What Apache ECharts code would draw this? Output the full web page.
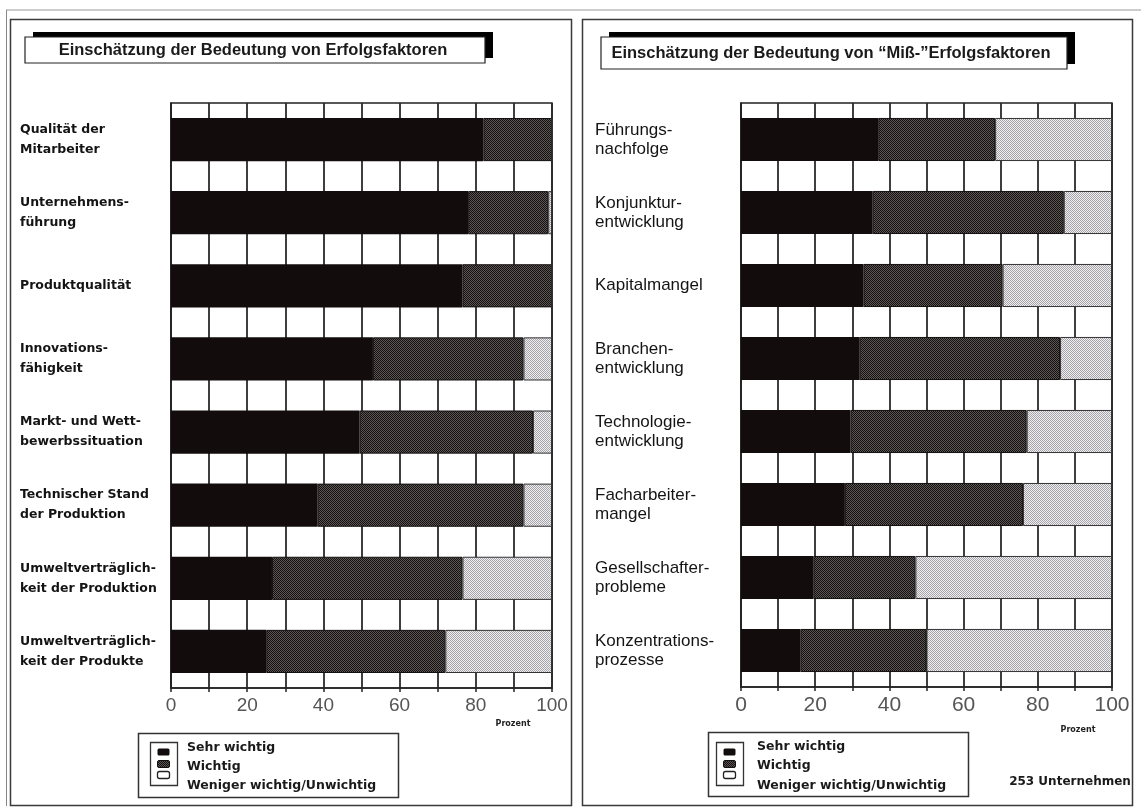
<!DOCTYPE html>
<html>
<head>
<meta charset="utf-8">
<script src="https://cdn.jsdelivr.net/npm/echarts@6/dist/echarts.min.js"></script>
<style>
  html, body { margin: 0; padding: 0; background: #fff; }
  #chart { width: 1141px; height: 808px; }
</style>
</head>
<body>
<div id="chart"></div>
<script>
// Left panel: importance of success factors
const titleA = 'Einschätzung der Bedeutung von Erfolgsfaktoren';
const categoriesA = [
  'Qualität der\nMitarbeiter',
  'Unternehmens-\nführung',
  'Produktqualität',
  'Innovations-\nfähigkeit',
  'Markt- und Wett-\nbewerbssituation',
  'Technischer Stand\nder Produktion',
  'Umweltverträglich-\nkeit der Produktion',
  'Umweltverträglich-\nkeit der Produkte'
];
const sehrA    = [82, 78, 76.5, 53, 49.5, 38.5, 26.5, 25];
const wichtigA = [18, 21, 23.5, 39.5, 45.5, 54, 50, 47];
const wenigerA = [0, 1, 0, 7.5, 5, 7.5, 23.5, 28];

// Right panel: importance of "failure" factors
const titleB = 'Einschätzung der Bedeutung von “Miß-”Erfolgsfaktoren';
const categoriesB = [
  'Führungs-\nnachfolge',
  'Konjunktur-\nentwicklung',
  'Kapitalmangel',
  'Branchen-\nentwicklung',
  'Technologie-\nentwicklung',
  'Facharbeiter-\nmangel',
  'Gesellschafter-\nprobleme',
  'Konzentrations-\nprozesse'
];
const sehrB    = [37, 35.5, 33, 32, 29.5, 28, 19.5, 16];
const wichtigB = [31.5, 51.5, 37.5, 54, 47.5, 48, 27.5, 34];
const wenigerB = [31.5, 13, 29.5, 14, 23, 24, 53, 50];

const seriesNames = ['Sehr wichtig', 'Wichtig', 'Weniger wichtig/Unwichtig'];
const xTicks = [0, 20, 40, 60, 80, 100];
const unitLabel = 'Prozent';
const sampleNote = '253 Unternehmen';

// dithered raster fills
function dither(c1, c2) {
  const cv = document.createElement('canvas');
  cv.width = 2; cv.height = 2;
  const g = cv.getContext('2d');
  g.fillStyle = c1; g.fillRect(0, 0, 2, 2);
  g.fillStyle = c2; g.fillRect(0, 0, 1, 1); g.fillRect(1, 1, 1, 1);
  return cv;
}
const blackFill = '#130c0c';
const darkCanvas = dither('#5c5656', '#161111');
const lightCanvas = dither('#efeef0', '#a6a4a8');
const darkFill = { image: darkCanvas, repeat: 'repeat' };
const lightFill = { image: lightCanvas, repeat: 'repeat' };
const darkPat = { type: 'pattern', image: darkCanvas, repeat: 'repeat' };

const BOLD = 'DejaVu Sans';
const SANS = 'Liberation Sans';

const chart = echarts.init(document.getElementById('chart'), null, { renderer: 'canvas' });

function xAxisDef(gridIndex, fontSize) {
  return {
    type: 'value', gridIndex, min: 0, max: 100, interval: 10,
    axisLine: { show: true, lineStyle: { color: '#222', width: 1.5 } },
    axisTick: { show: true, length: 4, lineStyle: { color: '#222', width: 1.5 } },
    splitLine: { show: true, lineStyle: { color: '#2a2a2a', width: 1.8 } },
    axisLabel: {
      margin: 8, color: '#555', fontFamily: SANS, fontSize,
      formatter: v => (xTicks.indexOf(v) >= 0 ? String(v) : '')
    }
  };
}
function yAxisDef(gridIndex, cats, margin, font, size, weight, lh) {
  return {
    type: 'category', gridIndex, data: cats, inverse: true,
    axisLine: { show: true, lineStyle: { color: '#222', width: 1.5 } },
    axisTick: { show: false },
    axisLabel: {
      align: 'left', margin, color: '#141414',
      fontFamily: font, fontSize: size, fontWeight: weight, lineHeight: lh
    }
  };
}
function stack(name, data, xi, color, border) {
  return {
    type: 'bar', name, data, stack: 'g' + xi, xAxisIndex: xi, yAxisIndex: xi,
    barCategoryGap: '41%',
    itemStyle: { color, borderColor: border, borderWidth: border ? 1 : 0 },
    silent: true
  };
}

// boxed title with a solid black offset shadow
function titleBox(x, y, w, h, text, cx) {
  return [
    { type: 'rect', shape: { x: x + 8, y: y - 5, width: w, height: h }, style: { fill: '#000' } },
    { type: 'rect', shape: { x, y, width: w, height: h }, style: { fill: '#fff', stroke: '#222', lineWidth: 1.2 } },
    { type: 'text', x: cx, y: y + h / 2, style: { text, font: 'bold 16.5px "Liberation Sans"', fill: '#1a1a1a', align: 'center', verticalAlign: 'middle' } }
  ];
}
// legend box: stacked swatches in a small frame, names beside
function legendBox(x, y, w, h, ix, iy, tx, tys) {
  const els = [
    { type: 'rect', shape: { x, y, width: w, height: h }, style: { fill: '#fff', stroke: '#333', lineWidth: 1.5 } },
    { type: 'rect', shape: { x: ix, y: iy, width: 27, height: 43 }, style: { fill: '#fff', stroke: '#333', lineWidth: 1.3 } },
    { type: 'rect', shape: { x: ix + 7, y: iy + 6, width: 12, height: 7, r: 1.5 }, style: { fill: blackFill } },
    { type: 'rect', shape: { x: ix + 7, y: iy + 18, width: 12, height: 7, r: 1.5 }, style: { fill: darkPat, stroke: '#111', lineWidth: 1 } },
    { type: 'rect', shape: { x: ix + 7, y: iy + 29, width: 12, height: 7, r: 2 }, style: { fill: '#fff', stroke: '#222', lineWidth: 1.3 } }
  ];
  seriesNames.forEach((n, i) => els.push({
    type: 'text', x: tx, y: tys[i],
    style: { text: n, font: 'bold 12.5px "DejaVu Sans"', fill: '#1a1a1a', verticalAlign: 'middle' }
  }));
  return els;
}

const frames = [
  { type: 'line', shape: { x1: 6, y1: 10, x2: 1141, y2: 10 }, style: { stroke: '#999', lineWidth: 1 } },
  { type: 'line', shape: { x1: 6.5, y1: 10, x2: 6.5, y2: 806 }, style: { stroke: '#888', lineWidth: 1 } },
  { type: 'rect', shape: { x: 10.5, y: 19.5, width: 561, height: 786 }, style: { fill: 'none', stroke: '#3a3a3a', lineWidth: 1.5 } },
  { type: 'rect', shape: { x: 582.5, y: 19.5, width: 550, height: 786 }, style: { fill: 'none', stroke: '#3a3a3a', lineWidth: 1.5 } }
];

const graphics = [].concat(
  frames,
  titleBox(25, 37, 460, 26, titleA, 253),
  titleBox(601, 37, 466, 32, titleB, 831),
  legendBox(138.5, 733.5, 260, 64, 150.5, 742.5, 187, [748, 767, 786]),
  legendBox(708.5, 732.5, 260, 64, 716.5, 742.5, 757, [747, 766, 786]),
  [
    { type: 'text', x: 513, y: 724, style: { text: unitLabel, font: 'bold 8px "DejaVu Sans"', fill: '#222', align: 'center', verticalAlign: 'middle' } },
    { type: 'text', x: 1078, y: 730, style: { text: unitLabel, font: 'bold 8px "DejaVu Sans"', fill: '#222', align: 'center', verticalAlign: 'middle' } },
    { type: 'text', x: 1070, y: 782, style: { text: sampleNote, font: 'bold 12px "DejaVu Sans"', fill: '#1a1a1a', align: 'center', verticalAlign: 'middle' } }
  ]
);

chart.setOption({
  backgroundColor: '#ffffff',
  animation: false,
  grid: [
    { left: 171, top: 103, width: 381, height: 585, show: true, backgroundColor: '#fff', borderColor: '#222', borderWidth: 1.5 },
    { left: 741, top: 103, width: 371, height: 584, show: true, backgroundColor: '#fff', borderColor: '#222', borderWidth: 1.5 }
  ],
  xAxis: [xAxisDef(0, 19), xAxisDef(1, 21)],
  yAxis: [
    yAxisDef(0, categoriesA, 151, BOLD, 12.5, 'bold', 20),
    yAxisDef(1, categoriesB, 146, SANS, 17, 'normal', 19)
  ],
  series: [
    stack(seriesNames[0], sehrA, 0, blackFill, null),
    stack(seriesNames[1], wichtigA, 0, darkFill, '#141010'),
    stack(seriesNames[2], wenigerA, 0, lightFill, '#333'),
    stack(seriesNames[0], sehrB, 1, blackFill, null),
    stack(seriesNames[1], wichtigB, 1, darkFill, '#141010'),
    stack(seriesNames[2], wenigerB, 1, lightFill, '#333')
  ],
  graphic: graphics
});
</script>
</body>
</html>
